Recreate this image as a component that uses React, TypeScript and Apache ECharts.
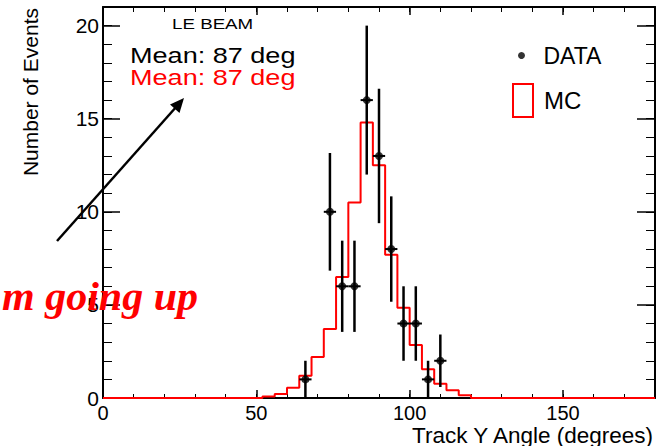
import React, { useEffect, useRef } from 'react';
import * as echarts from 'echarts';

// ---- data ----
const BIN_WIDTH = 4; // degrees per bin, bins 0..180
const mcValues = [
  0, 0, 0, 0, 0, 0, 0, 0, 0, 0, 0, 0, 0,
  0.08, 0.22, 0.55, 1.2, 2.2, 3.7, 6.5, 10.5, 14.8, 12.5, 7.7, 4.85, 2.85, 1.55, 0.76, 0.42, 0.15,
  0, 0, 0, 0, 0, 0, 0, 0, 0, 0, 0, 0, 0, 0, 0,
];
const dataX = [66, 74, 78, 82, 86, 90, 94, 98, 102, 106, 110];
const dataY = [1, 10, 6, 6, 16, 13, 8, 4, 4, 1, 2];
const dataErr = [1, 3.16, 2.45, 2.45, 4, 3.61, 2.83, 2, 2, 1, 1.41];
const xMin = 0;
const xMax = 180;
const yMin = 0;
const yMax = 21;
const xMajor = 50;
const xMinor = 10;
const yMajor = 5;
const yMinor = 1;
const xTitle = 'Track Y Angle (degrees)';
const yTitle = 'Number of Events';
const seriesNames = ['DATA', 'MC'];
const beamLabel = 'LE BEAM';
const meanData = 'Mean: 87 deg';
const meanMC = 'Mean: 87 deg';
const sideNote = 'm going up';

const FONT = '"Liberation Sans", Arial, Helvetica, sans-serif';
const RED = '#ff0000';

export default function App() {
  const ref = useRef<HTMLDivElement>(null);
  useEffect(() => {
    if (!ref.current) return;
    const chart = echarts.init(ref.current, undefined, { renderer: 'svg' });

    const mcLine: number[][] = mcValues.map((v, i) => [xMin + i * BIN_WIDTH, v]);
    mcLine.push([xMax, mcValues[mcValues.length - 1]]);
    const errData = dataX.map((x, i) => [x, dataY[i], dataErr[i]]);
    const pts = dataX.map((x, i) => [x, dataY[i]]);

    const grid = { left: 103, right: 6, top: 7, bottom: 48, containLabel: false, outerBoundsMode: 'none' };

    const baseX = (pos: string, interval: number, len: number, show: boolean, labels: boolean, extra: any = {}) => ({
      type: 'value', position: pos, min: xMin, max: xMax, interval,
      axisLine: { show, onZero: false, lineStyle: { color: '#000', width: 2 } },
      axisTick: { show: true, inside: true, length: len, lineStyle: { color: '#000', width: interval === xMajor ? 1.5 : 1 } },
      axisLabel: labels ? {
        show: true, color: '#000', fontSize: 20, fontFamily: FONT, margin: 7, lineHeight: 15,
        formatter: (v: number) => (v % xMajor === 0 ? String(v) : ''),
        showMaxLabel: true, showMinLabel: true,
      } : { show: false },
      splitLine: { show: false },
      ...extra,
    });
    const baseY = (pos: string, interval: number, len: number, show: boolean, labels: boolean, extra: any = {}) => ({
      type: 'value', position: pos, min: yMin, max: yMax, interval,
      axisLine: { show, onZero: false, lineStyle: { color: '#000', width: 2 } },
      axisTick: { show: true, inside: true, length: len, lineStyle: { color: '#000', width: interval === yMajor ? 1.5 : 1 } },
      axisLabel: labels ? {
        show: true, color: '#000', fontSize: 21, fontFamily: FONT, margin: 4, padding: [3, 0, 0, 0],
        formatter: (v: number) => (v % yMajor === 0 ? String(v) : ''),
      } : { show: false },
      splitLine: { show: false },
      ...extra,
    });

    const option: any = {
      animation: false,
      backgroundColor: '#fff',
      textStyle: { fontFamily: FONT },
      grid,
      xAxis: [
        baseX('bottom', xMinor, 4, true, true, {
          name: xTitle, nameLocation: 'end', nameGap: -2, nameMoveOverlap: false,
          nameTextStyle: { fontSize: 22.5, color: '#000', fontFamily: FONT, align: 'right', verticalAlign: 'top', lineHeight: 22, padding: [26, 0, 0, 0] },
        }),
        baseX('bottom', xMajor, 8, false, false),
        baseX('top', xMinor, 5, true, false),
        baseX('top', xMajor, 8, false, false),
      ],
      yAxis: [
        baseY('left', yMinor, 9, true, true, {
          name: yTitle, nameLocation: 'end', nameGap: -1, nameRotate: 90, nameMoveOverlap: false,
          nameTextStyle: { fontSize: 21, color: '#000', fontFamily: FONT, align: 'right', verticalAlign: 'bottom', padding: [0, 0, 62, 0] },
        }),
        baseY('left', yMajor, 17, false, false),
        baseY('right', yMinor, 9, true, false),
        baseY('right', yMajor, 18, false, false),
      ],
      legend: [
        {
          data: [{ name: seriesNames[0], icon: 'circle' }],
          left: 518, top: 44, padding: 0, itemWidth: 20, itemHeight: 7, selectedMode: false,
          textStyle: { fontSize: 23, color: '#000', fontFamily: FONT, padding: [0, 0, 0, 7] },
        },
        {
          data: [{ name: seriesNames[1], icon: 'rect', itemStyle: { color: 'transparent', borderColor: RED, borderWidth: 2 } }],
          left: 512, top: 83, padding: 0, itemWidth: 20, itemHeight: 33, selectedMode: false,
          textStyle: { fontSize: 24, color: '#000', fontFamily: FONT, padding: [0, 0, 0, 6] },
        },
      ],
      series: [
        {
          name: seriesNames[1], type: 'line', step: 'end', data: mcLine, symbol: 'none',
          xAxisIndex: 0, yAxisIndex: 0,
          lineStyle: { color: RED, width: 2 }, itemStyle: { color: RED }, z: 2,
        },
        {
          type: 'custom', xAxisIndex: 0, yAxisIndex: 0, z: 3,
          data: errData, encode: { x: 0, y: 1 },
          renderItem: (params: any, api: any) => {
            const x = api.value(0), y = api.value(1), e = api.value(2);
            const top = api.coord([x, y + e]);
            const bot = api.coord([x, Math.max(0, y - e)]);
            const l = api.coord([x - BIN_WIDTH / 2, y]);
            const r = api.coord([x + BIN_WIDTH / 2, y]);
            return {
              type: 'group',
              children: [
                { type: 'line', shape: { x1: top[0], y1: top[1], x2: bot[0], y2: bot[1] }, style: { stroke: '#000', lineWidth: 2.5 } },
                { type: 'line', shape: { x1: l[0], y1: l[1], x2: r[0], y2: r[1] }, style: { stroke: '#000', lineWidth: 2 } },
              ],
            };
          },
        },
        {
          name: seriesNames[0], type: 'scatter', data: pts, symbol: 'circle', symbolSize: 8,
          xAxisIndex: 0, yAxisIndex: 0, itemStyle: { color: '#000' }, z: 4,
        },
      ],
      graphic: [
        { type: 'text', x: 172, y: 24, scaleX: 1.25, style: { text: beamLabel, fontSize: 15, fontFamily: FONT, fill: '#000', align: 'left', verticalAlign: 'middle' } },
        { type: 'text', x: 130, y: 55, scaleX: 1.23, style: { text: meanData, fontSize: 22, fontFamily: FONT, fill: '#000', align: 'left', verticalAlign: 'middle' } },
        { type: 'text', x: 130, y: 77, scaleX: 1.23, style: { text: meanMC, fontSize: 22, fontFamily: FONT, fill: RED, align: 'left', verticalAlign: 'middle' } },
        { type: 'line', shape: { x1: 57, y1: 241, x2: 177, y2: 106 }, style: { stroke: '#000', lineWidth: 2.5 } },
        { type: 'polygon', shape: { points: [[184, 98], [179.5, 113], [170, 104.5]] }, style: { fill: '#000' } },
        { type: 'text', x: 2, y: 296, scaleX: 1.05, z: 10, style: { text: sideNote, fontSize: 40, fontFamily: '"Liberation Serif", "Times New Roman", serif', fontWeight: 'bold', fontStyle: 'italic', fill: RED, align: 'left', verticalAlign: 'middle' } },
      ],
    };
    chart.setOption(option);
    return () => chart.dispose();
  }, []);
  return <div ref={ref} style={{ position: 'fixed', left: 0, top: 0, width: 661, height: 446 }} />;
}
